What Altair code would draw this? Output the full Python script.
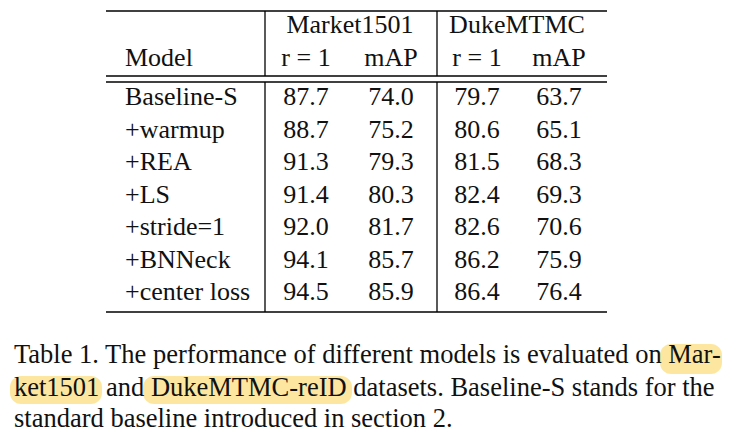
import altair as alt
import pandas as pd

# ---------------- data ----------------
models = ["Baseline-S", "+warmup", "+REA", "+LS", "+stride=1", "+BNNeck", "+center loss"]
market_r1 = [87.7, 88.7, 91.3, 91.4, 92.0, 94.1, 94.5]
market_map = [74.0, 75.2, 79.3, 80.3, 81.7, 85.7, 85.9]
duke_r1 = [79.7, 80.6, 81.5, 82.4, 82.6, 86.2, 86.4]
duke_map = [63.7, 65.1, 68.3, 69.3, 70.6, 75.9, 76.4]
datasets = ["Market1501", "DukeMTMC"]
metrics = ["r = 1", "mAP", "r = 1", "mAP"]
model_header = "Model"
caption_lines = [
    "Table 1. The performance of different models is evaluated on Mar-",
    "ket1501 and DukeMTMC-reID datasets.  Baseline-S stands for the",
    "standard baseline introduced in section 2.",
]

# ---------------- layout (pixel positions in the 732x439 frame) ----------------
X_MODEL = 125
X_COLS = [306, 391, 477, 559]
X_GROUPS = [350, 517]
Y_GROUP = 33
Y_HEADER = 66
Y_ROW0 = 105
ROW_STEP = 32.5
X_CAPTION = 14
Y_CAPTION = [363, 396, 427]
TABLE_LEFT, TABLE_RIGHT = 106, 607
V_LINES = [265, 437]
Y_TOP, Y_MID1, Y_MID2, Y_BOTTOM = 11, 76, 82, 312
HIGHLIGHTS = [(660, 722, 344, 374), (10, 102, 376, 404), (143, 352, 376, 404)]

FONT = "Liberation Serif"
TEXT_COLOR = "#111111"

xs = alt.Scale(domain=[8, 724], nice=False, zero=False)
ys = alt.Scale(domain=[8, 435], nice=False, zero=False, reverse=True)

# table text
cells = []
for i, m in enumerate(models):
    y = Y_ROW0 + i * ROW_STEP
    cells.append({"x": X_MODEL, "y": y, "t": m, "a": "left"})
    for j, series in enumerate([market_r1, market_map, duke_r1, duke_map]):
        cells.append({"x": X_COLS[j], "y": y, "t": f"{series[i]:.1f}", "a": "center"})
for j, d in enumerate(datasets):
    cells.append({"x": X_GROUPS[j], "y": Y_GROUP, "t": d, "a": "center"})
for j, mt in enumerate(metrics):
    cells.append({"x": X_COLS[j], "y": Y_HEADER, "t": mt, "a": "center"})
cells.append({"x": X_MODEL, "y": Y_HEADER, "t": model_header, "a": "left"})
cells_df = pd.DataFrame(cells)

left_df = cells_df[cells_df["a"] == "left"]
center_df = cells_df[cells_df["a"] == "center"]

def text_layer(df, align, size):
    return alt.Chart(df).mark_text(
        align=align, baseline="alphabetic", font=FONT, fontSize=size, color=TEXT_COLOR
    ).encode(
        x=alt.X("x:Q", scale=xs, axis=None),
        y=alt.Y("y:Q", scale=ys, axis=None),
        text="t:N",
    )

# rules
rules = []
for yv in [Y_TOP, Y_MID1, Y_MID2, Y_BOTTOM]:
    rules.append({"x": TABLE_LEFT, "x2": TABLE_RIGHT, "y": yv, "y2": yv})
for xv in V_LINES:
    rules.append({"x": xv, "x2": xv, "y": Y_TOP, "y2": Y_MID1})
    rules.append({"x": xv, "x2": xv, "y": Y_MID2, "y2": Y_BOTTOM})
rules_df = pd.DataFrame(rules)

rule_layer = alt.Chart(rules_df).mark_rule(color="#000000", strokeWidth=1.3).encode(
    x=alt.X("x:Q", scale=xs, axis=None),
    x2="x2:Q",
    y=alt.Y("y:Q", scale=ys, axis=None),
    y2="y2:Q",
)

hl_df = pd.DataFrame([{"x": a, "x2": b, "y": c, "y2": d} for a, b, c, d in HIGHLIGHTS])
hl_layer = alt.Chart(hl_df).mark_rect(color="#FDE7A0", cornerRadius=11).encode(
    x=alt.X("x:Q", scale=xs, axis=None),
    x2="x2:Q",
    y=alt.Y("y:Q", scale=ys, axis=None),
    y2="y2:Q",
)

cap_df = pd.DataFrame({"x": [X_CAPTION] * 3, "y": Y_CAPTION, "t": caption_lines})

chart = alt.layer(
    hl_layer,
    rule_layer,
    text_layer(left_df, "left", 26),
    text_layer(center_df, "center", 26),
    text_layer(cap_df, "left", 26.5),
).properties(
    width=716,
    height=427,
    padding=0,
    autosize=alt.AutoSizeParams(type="none"),
    background="white",
).configure_view(stroke=None)

chart.save("out.html", embed_options={"renderer": "svg", "actions": False})
